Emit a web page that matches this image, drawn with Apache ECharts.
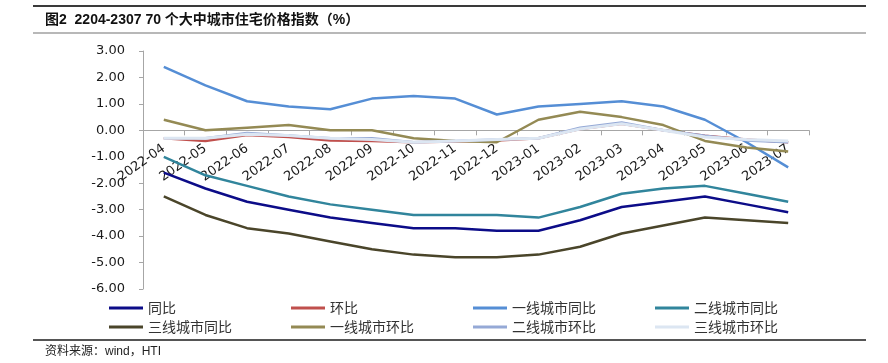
<!DOCTYPE html>
<html>
<head>
<meta charset="utf-8">
<script src="https://cdn.jsdelivr.net/npm/echarts@6/dist/echarts.min.js"></script>
<style>html,body{margin:0;padding:0;background:#fff;}#main{width:888px;height:363px;}</style>
</head>
<body>
<div id="main"></div>
<script>
const categories = ['2022-04','2022-05','2022-06','2022-07','2022-08','2022-09','2022-10','2022-11','2022-12','2023-01','2023-02','2023-03','2023-04','2023-05','2023-06','2023-07'];
const yoy      = [-1.6,-2.2,-2.7,-3.0,-3.3,-3.5,-3.7,-3.7,-3.8,-3.8,-3.4,-2.9,-2.7,-2.5,-2.8,-3.1];
const mom      = [-0.3,-0.4,-0.18,-0.25,-0.38,-0.4,-0.45,-0.42,-0.38,-0.3,0.05,0.25,0.0,-0.2,-0.35,-0.45];
const tier1Yoy = [2.4,1.7,1.1,0.9,0.8,1.2,1.3,1.2,0.6,0.9,1.0,1.1,0.9,0.4,-0.45,-1.4];
const tier2Yoy = [-1.0,-1.7,-2.1,-2.5,-2.8,-3.0,-3.2,-3.2,-3.2,-3.3,-2.9,-2.4,-2.2,-2.1,-2.4,-2.7];
const tier3Yoy = [-2.5,-3.2,-3.7,-3.9,-4.2,-4.5,-4.7,-4.8,-4.8,-4.7,-4.4,-3.9,-3.6,-3.3,-3.4,-3.5];
const tier1Mom = [0.4,0.0,0.1,0.2,0.0,0.0,-0.3,-0.4,-0.45,0.4,0.7,0.5,0.2,-0.4,-0.65,-0.8];
const tier2Mom = [-0.3,-0.3,-0.1,-0.2,-0.3,-0.3,-0.45,-0.4,-0.35,-0.3,0.1,0.3,0.0,-0.2,-0.38,-0.45];
const tier3Mom = [-0.3,-0.3,-0.15,-0.2,-0.3,-0.35,-0.45,-0.4,-0.35,-0.3,0.05,0.25,0.0,-0.25,-0.35,-0.4];

const names  = ['同比','环比','一线城市同比','二线城市同比','三线城市同比','一线城市环比','二线城市环比','三线城市环比'];
const values = [yoy, mom, tier1Yoy, tier2Yoy, tier3Yoy, tier1Mom, tier2Mom, tier3Mom];
const colors = ['#0C0C88','#C0504D','#558ED5','#31859C','#4A452A','#948A54','#95A9D6','#DCE6F2'];
const widths = [2.5,2.5,2.5,2.5,2.5,2.5,2.5,3];

const yMin = -6, yMax = 3;
const gridTop = 51, gridBottomPx = 289;
const zeroOffset = -(gridBottomPx - gridTop) * (0 - yMin) / (yMax - yMin);

const chart = echarts.init(document.getElementById('main'));
const legendCols = [[0,4],[1,5],[2,6],[3,7]];
const legendLefts = [109,291,473,655];
const legends = legendCols.map((c,i)=>({
  orient:'vertical', left:legendLefts[i], top:301,
  data:c.map(k=>names[k]), icon:'rect', itemWidth:34, itemHeight:3, itemGap:5,
  padding:0, selectedMode:false,
  textStyle:{fontFamily:'"Noto Sans CJK SC"', fontSize:14, color:'#333', lineHeight:14}
}));

chart.setOption({
  animation:false,
  backgroundColor:'#fff',
  color:colors,
  legend:legends,
  grid:{left:143, right:79, top:gridTop, bottom:363-gridBottomPx, containLabel:false},
  xAxis:{
    type:'category', data:categories, boundaryGap:true,
    offset:zeroOffset,
    axisLine:{onZero:false, lineStyle:{color:'#A6A6A6', width:1}},
    axisTick:{show:true, length:5, lineStyle:{color:'#A6A6A6'}},
    axisLabel:{rotate:35, margin:17, fontFamily:'DejaVu Sans', fontSize:13, color:'#1a1a1a', interval:0}
  },
  yAxis:{
    type:'value', min:yMin, max:yMax, interval:1,
    splitLine:{show:false},
    axisLine:{show:true, lineStyle:{color:'#A6A6A6', width:1}},
    axisTick:{show:true, length:4, lineStyle:{color:'#A6A6A6'}},
    axisLabel:{margin:18, fontFamily:'DejaVu Sans', fontSize:13, color:'#1a1a1a', formatter:v=>v.toFixed(2)}
  },
  series:names.map((n,i)=>({
    name:n, type:'line', data:values[i], symbol:'none',
    lineStyle:{color:colors[i], width:widths[i]}, itemStyle:{color:colors[i]}
  })),
  graphic:[
    {type:'line', shape:{x1:33,y1:6,x2:866,y2:6}, style:{stroke:'#3a3a3a', lineWidth:2}},
    {type:'line', shape:{x1:33,y1:33,x2:866,y2:33}, style:{stroke:'#A0A0A0', lineWidth:1.5}},
    {type:'line', shape:{x1:33,y1:340,x2:866,y2:340}, style:{stroke:'#555', lineWidth:2}},
    {type:'text', left:45, top:13, style:{text:'图2  2204-2307 70 个大中城市住宅价格指数（%）', fontFamily:'"Liberation Sans","Noto Sans CJK SC"', fontWeight:'bold', fontSize:14, fill:'#111'}},
    {type:'text', left:45, top:346, style:{text:'资料来源：wind，HTI', fontFamily:'"Liberation Sans","Noto Sans CJK SC"', fontSize:12, fill:'#222'}}
  ]
});
</script>
</body>
</html>
